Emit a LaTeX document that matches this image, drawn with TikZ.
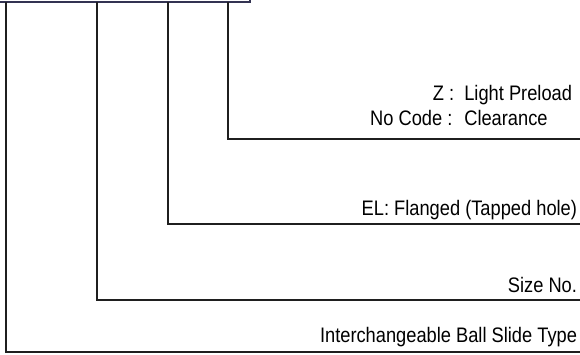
\documentclass[tikz,border=0pt]{standalone}
\usepackage{fontspec}
\setmainfont{Liberation Sans}[FakeStretch=0.87]
\usetikzlibrary{positioning}

\begin{document}
\begin{tikzpicture}[
  x=1pt,y=-1pt,
  line width=2pt,
  every node/.style={font=\fontsize{21}{25}\selectfont,inner sep=0pt},
  leader/.style={draw=black!88},
  code label/.style={anchor=base east},
]
\useasboundingbox (0,0) rectangle (580,354);
% top of the code box
\draw[draw=black!80!blue!60!gray] (-2,2) -- (250,2) -- (250,-6);
% leader ends
\coordinate (t1) at (6,2);
\coordinate (t2) at (97,2);
\coordinate (t3) at (168,2);
\coordinate (t4) at (228,2);
\coordinate (e1) at (582,352);
\coordinate (e2) at (582,300);
\coordinate (e3) at (582,224);
\coordinate (e4) at (582,139);
\draw[leader] (t1) |- (e1);
\draw[leader] (t2) |- (e2);
\draw[leader] (t3) |- (e3);
\draw[leader] (t4) |- (e4);
% labels
\node[code label] (type) at (578,342) {Interchangeable Ball Slide Type};
\node[code label] (size) at (578,292) {Size No.};
\node[code label] (flange) at (578,215) {EL: Flanged (Tapped hole)};
\node[code label] (preload) at (573,125)
  {\begin{tabular}[b]{@{}r@{ : \ }l@{}}Z & Light Preload\\ No Code & Clearance\end{tabular}};
\end{tikzpicture}
\end{document}
